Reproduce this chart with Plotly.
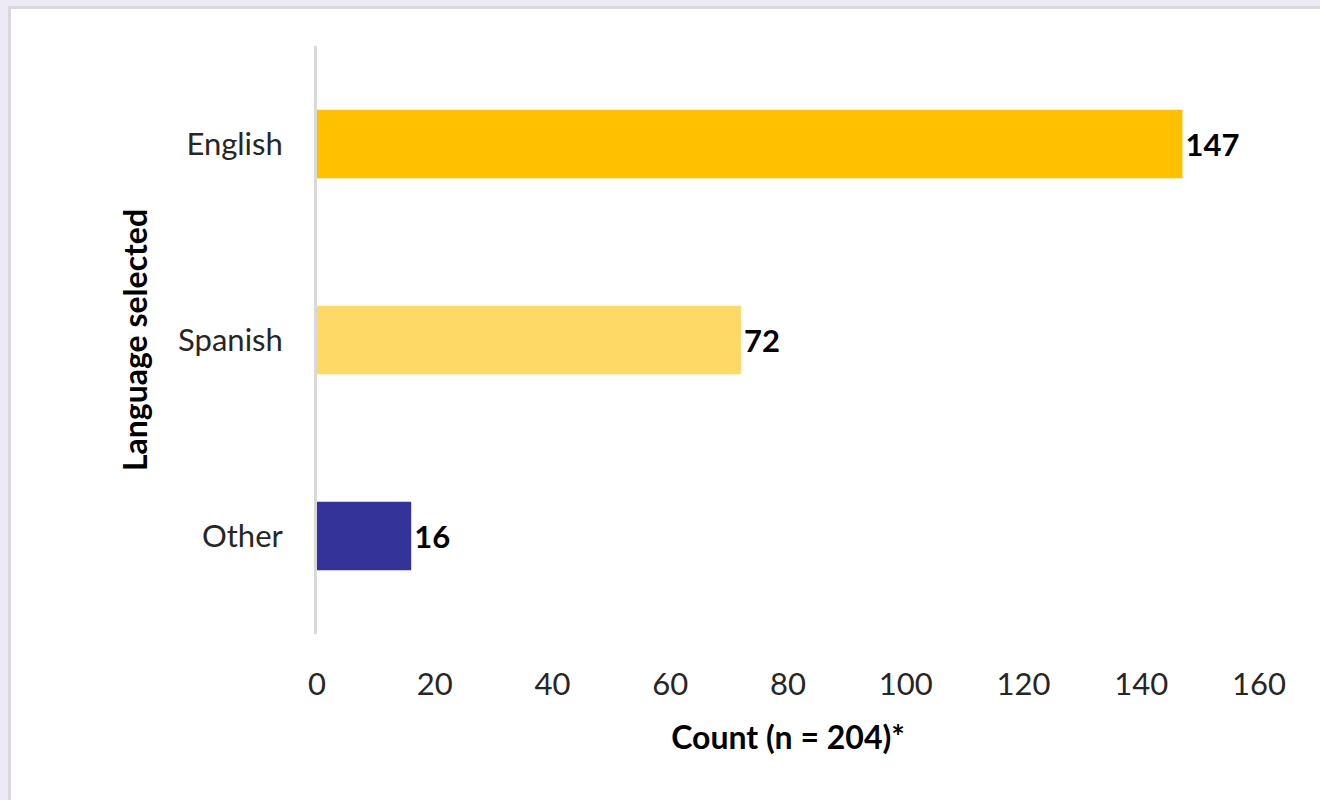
import plotly.graph_objects as go

# Survey responses by language selected
languages = ["Other", "Spanish", "English"]
counts = [16, 72, 147]
bar_colors = ["#333399", "#FFD966", "#FFC000"]

x_ticks = [0, 20, 40, 60, 80, 100, 120, 140, 160]

W, H = 1320, 800
ML, MR, MT, MB = 317, 61, 46, 166
pw, ph = W - ML - MR, H - MT - MB


def px_to_paper_x(px):
    return (px - ML) / pw


def px_to_paper_y(py):
    return (H - MB - py) / ph


font_family = "Lato, Carlito, Calibri, sans-serif"

fig = go.Figure(
    go.Bar(
        x=counts,
        y=languages,
        orientation="h",
        marker=dict(color=bar_colors, line=dict(width=0)),
        width=0.35,
        text=[f"<b>{c}</b>" for c in counts],
        textposition="outside",
        textfont=dict(size=31, color="#000000", family=font_family),
        cliponaxis=False,
    )
)

# white card with a grey frame over the lavender page
fig.add_shape(
    type="rect",
    xref="paper", yref="paper",
    x0=px_to_paper_x(9.5), x1=px_to_paper_x(W + 20),
    y0=px_to_paper_y(H + 20), y1=px_to_paper_y(7.5),
    line=dict(color="#D9D9D9", width=3),
    fillcolor="#FFFFFF",
    layer="below",
)

fig.update_layout(
    width=W, height=H,
    margin=dict(l=ML, r=MR, t=MT, b=MB),
    paper_bgcolor="#EEEAF5",
    plot_bgcolor="rgba(0,0,0,0)",
    showlegend=False,
    font=dict(family=font_family, color="#000000"),
    xaxis=dict(
        range=[0, 160],
        tickvals=x_ticks,
        showgrid=False,
        zeroline=False,
        showline=False,
        ticks="outside",
        ticklen=23,
        tickcolor="rgba(0,0,0,0)",
        tickfont=dict(size=31, color="#262626"),
        title=dict(text="<b>Count (n = 204)*</b>", font=dict(size=32), standoff=25),
    ),
    yaxis=dict(
        range=[-0.5, 2.5],
        showgrid=False,
        zeroline=False,
        showline=True,
        linecolor="#D9D9D9",
        linewidth=3,
        ticks="outside",
        ticklen=25,
        tickcolor="rgba(0,0,0,0)",
        tickfont=dict(size=31, color="#262626"),
        title=dict(text="<b>Language selected</b>", font=dict(size=32), standoff=21),
    ),
)

fig.write_html("out.html")
